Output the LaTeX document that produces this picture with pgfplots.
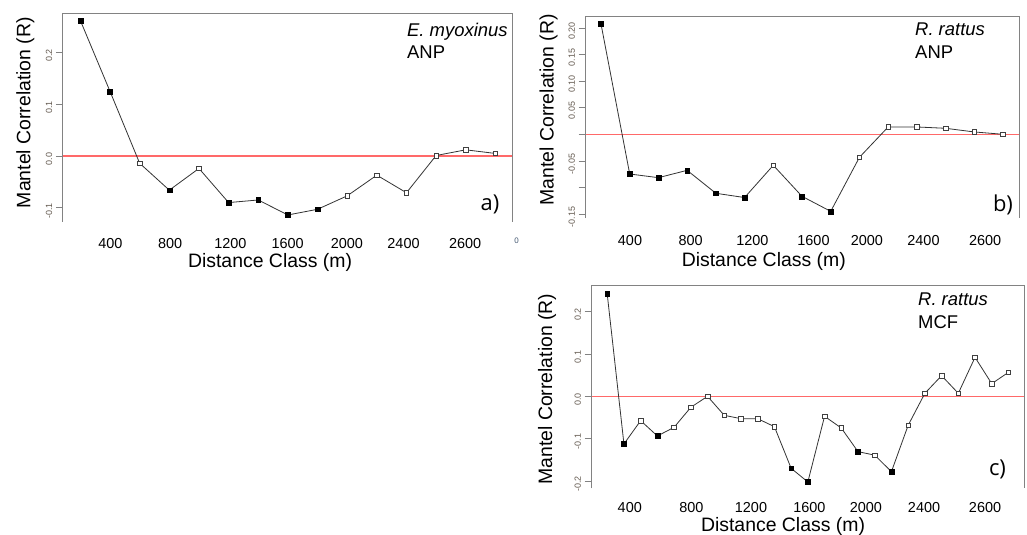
\documentclass[border=0pt]{standalone}
\usepackage{pgfplots}
\usepackage{pgfplotstable}
\pgfplotsset{compat=1.18}
\usepackage{fontspec}
\setmainfont{Liberation Sans}
\newfontfamily\opensans{Open Sans}
\definecolor{redline}{RGB}{255,105,105}
\definecolor{framec}{RGB}{130,130,130}
\definecolor{ticklab}{RGB}{100,90,80}

\pgfplotstableread{
x y t
1 0.262 f
2 0.125 f
3 -0.014 o
4 -0.066 f
5 -0.024 o
6 -0.090 f
7 -0.085 f
8 -0.114 f
9 -0.103 f
10 -0.077 o
11 -0.037 o
12 -0.071 o
13 0.001 o
14 0.012 o
15 0.005 o
}\dataA

\pgfplotstableread{
x y t
1 0.2077 f
2 -0.0747 f
3 -0.0816 f
4 -0.0678 f
5 -0.1110 f
6 -0.1190 f
7 -0.0583 o
8 -0.1167 f
9 -0.1450 f
10 -0.0433 o
11 0.0138 o
12 0.0138 o
13 0.0113 o
14 0.0044 o
15 0.0000 o
}\dataB

\pgfplotstableread{
x y t
1 0.2417 f
2 -0.1126 f
3 -0.0575 o
4 -0.0937 f
5 -0.0732 o
6 -0.0260 o
7 0.0000 o
8 -0.0449 o
9 -0.0528 o
10 -0.0528 o
11 -0.0717 o
12 -0.1700 f
13 -0.2024 f
14 -0.0472 o
15 -0.0748 o
16 -0.1307 f
17 -0.1390 o
18 -0.1780 f
19 -0.0685 o
20 0.0071 o
21 0.0488 o
22 0.0071 o
23 0.0921 o
24 0.0299 o
25 0.0567 o
}\dataC

\pgfplotsset{
  mantel/.style={
    scale only axis, clip=false,
    axis line style={draw=none},
    tick align=outside,
    major tick length=6.5bp,
    ytick pos=left, xtick pos=bottom,
    xtick style={draw=none},
    ytick style={draw=framec, line width=0.7bp},
    xticklabel style={font=\fontsize{14.5}{16}\selectfont, yshift=-7bp},
    yticklabel style={rotate=90, anchor=south, xshift=-3bp, font=\fontsize{9}{10}\selectfont, text=ticklab},
    label style={font=\fontsize{19.5}{22}\selectfont},
    xlabel={Distance Class (m)}, ylabel={Mantel Correlation (R)},
    xticklabels={400,800,1200,1600,2000,2400,2600},
  },
  lineplot/.style={draw=black!80, line width=0.8bp, mark=none},
  pts/.style={scatter, only marks, scatter src=explicit symbolic,
    scatter/classes={
      f={mark=square*, mark size=2.4bp, draw=black, fill=black},
      o={mark=square*, mark size=2.3bp, draw=black!75, fill=white, line width=0.6bp}}},
}

\begin{document}
\begin{tikzpicture}
\path[use as bounding box] (0,0) rectangle (1027bp,-535bp);

% panel a
\begin{axis}[mantel, at={(62.3bp,-221.7bp)}, anchor=south west,
  width=449.7bp, height=208.7bp,
  xmin=0.39, xmax=15.56, ymin=-0.127, ymax=0.2766,
  xtick={2.01,4.03,6.06,7.99,9.99,11.9,13.98},
  ytick={-0.1,0,0.1,0.2}, yticklabels={-0.1,0.0,0.1,0.2},
  xlabel style={at={(axis description cs:0.462,-0.196)}, anchor=center},
  ylabel style={at={(axis description cs:-0.082,0.523)}, anchor=center},
]
\addplot[redline, line width=1.1bp] coordinates {(0.39,0) (15.56,0)};
\addplot[lineplot] table[x=x,y=y] {\dataA};
\addplot[pts] table[x=x,y=y,meta=t] {\dataA};
\draw[framec, line width=0.8bp] (rel axis cs:0,0) -- (rel axis cs:0,1) -- (rel axis cs:1,1) -- (rel axis cs:1,0);
\end{axis}

% panel b
\begin{axis}[mantel, at={(585bp,-218bp)}, anchor=south west,
  width=434bp, height=202bp,
  xmin=0.443, xmax=15.557, ymin=-0.1575, ymax=0.2226,
  xtick={2.01,4.12,6.27,8.4,10.26,12.23,14.38},
  ytick={-0.15,-0.10,-0.05,0,0.05,0.10,0.15,0.20},
  yticklabels={-0.15,,-0.05,,0.05,0.10,0.15,0.20},
  xlabel style={at={(axis description cs:0.412,-0.213)}, anchor=center},
  ylabel style={at={(axis description cs:-0.084,0.535)}, anchor=center},
]
\addplot[redline, line width=1.1bp] coordinates {(0.443,0) (15.557,0)};
\addplot[lineplot] table[x=x,y=y] {\dataB};
\addplot[pts] table[x=x,y=y,meta=t] {\dataB};
\draw[framec, line width=0.8bp] (rel axis cs:0,0) -- (rel axis cs:0,1) -- (rel axis cs:1,1) -- (rel axis cs:1,0);
\end{axis}

% panel c
\begin{axis}[mantel, at={(591bp,-488.3bp)}, anchor=south west,
  width=433.5bp, height=202.6bp,
  xmin=0.03, xmax=25.96, ymin=-0.2173, ymax=0.2613,
  xtick={2.35,6.03,9.6,13.09,16.47,19.95,23.6},
  ytick={-0.2,-0.1,0,0.1,0.2}, yticklabels={-0.2,-0.1,0.0,0.1,0.2},
  xticklabel style={yshift=2.5bp},
  xlabel style={at={(axis description cs:0.443,-0.19)}, anchor=center},
  ylabel style={at={(axis description cs:-0.1015,0.49)}, anchor=center},
]
\addplot[redline, line width=1.1bp] coordinates {(0.03,0) (25.96,0)};
\addplot[lineplot] table[x=x,y=y] {\dataC};
\addplot[pts] table[x=x,y=y,meta=t] {\dataC};
\draw[framec, line width=0.8bp] (rel axis cs:0,0) -- (rel axis cs:0,1) -- (rel axis cs:1,1) -- (rel axis cs:1,0);
\end{axis}

% annotations
\begin{scope}[every node/.style={inner sep=0pt, font=\fontsize{18.5}{20}\selectfont}]
\node[anchor=base west] at (407bp,-36.5bp) {\itshape E. myoxinus};
\node[anchor=base west] at (407bp,-58bp) {ANP};
\node[anchor=base west] at (915bp,-35bp) {\itshape R. rattus};
\node[anchor=base west] at (915bp,-58.3bp) {ANP};
\node[anchor=base west] at (918bp,-305bp) {\itshape R. rattus};
\node[anchor=base west] at (918bp,-328.3bp) {MCF};
\end{scope}
\begin{scope}[every node/.style={inner sep=0pt, font=\opensans\fontsize{22}{24}\selectfont}]
\node at (490bp,-204.5bp) {a)};
\node at (1003bp,-204.5bp) {b)};
\node at (997.5bp,-469.5bp) {c)};
\end{scope}
\node[inner sep=0pt, font=\fontsize{8}{9}\selectfont, text={rgb,255:red,70;green,90;blue,115}] at (516.7bp,-241bp) {0};
\end{tikzpicture}
\end{document}
